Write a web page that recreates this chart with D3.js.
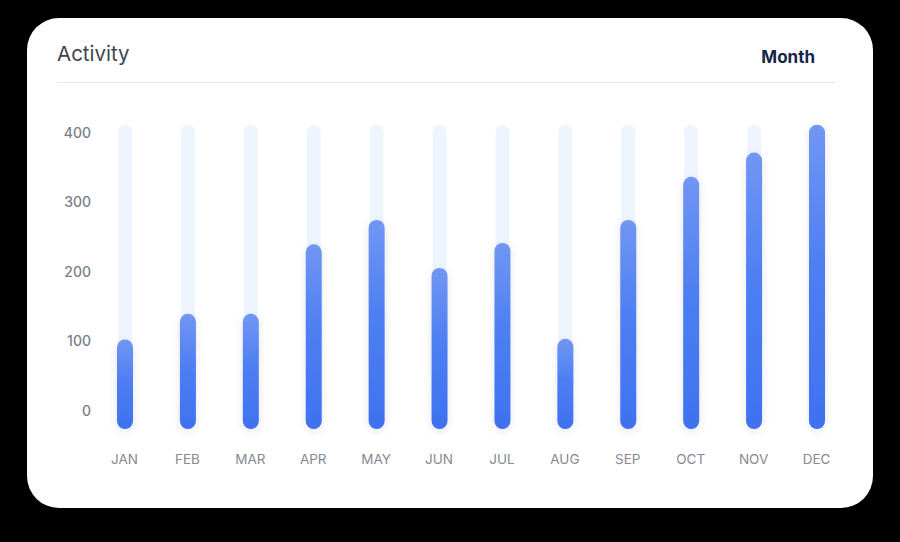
<!DOCTYPE html>
<html>
<head>
<meta charset="utf-8">
<script src="https://cdn.jsdelivr.net/npm/d3@7"></script>
<style>
  html, body { margin: 0; padding: 0; background: #000; }
  svg { display: block; }
</style>
</head>
<body>
<svg id="chart" width="900" height="542"></svg>
<script>
const months = ["JAN","FEB","MAR","APR","MAY","JUN","JUL","AUG","SEP","OCT","NOV","DEC"];
const activity = [100, 137, 137, 237, 272, 203, 239, 101, 272, 334, 369, 409];
const yTicks = [0, 100, 200, 300, 400];
const trackMax = 409;
const title = "Activity";
const periodLabel = "Month";

const svg = d3.select("#chart");

const defs = svg.append("defs");
const grad = defs.append("linearGradient").attr("id", "barGrad")
  .attr("x1", 0).attr("y1", 0).attr("x2", 0).attr("y2", 1);
grad.append("stop").attr("offset", "0%").attr("stop-color", "#7196f3");
grad.append("stop").attr("offset", "45%").attr("stop-color", "#4e7ff2");
grad.append("stop").attr("offset", "100%").attr("stop-color", "#3f71f0");

const sh = defs.append("filter").attr("id", "shadow")
  .attr("x", "-150%").attr("y", "-10%").attr("width", "400%").attr("height", "120%");
sh.append("feDropShadow").attr("dx", 0).attr("dy", 2).attr("stdDeviation", 4)
  .attr("flood-color", "#1e2a50").attr("flood-opacity", 0.10);

// card
svg.append("rect").attr("x", 27).attr("y", 18).attr("width", 846).attr("height", 490)
  .attr("rx", 32).attr("fill", "#ffffff");

svg.append("text").attr("x", 57).attr("y", 61).text(title)
  .attr("font-family", "Inter, 'Open Sans', sans-serif").attr("font-size", 20.5)
  .attr("fill", "#3f454d");
svg.append("text").attr("x", 815).attr("y", 63).attr("text-anchor", "end").text(periodLabel)
  .attr("font-family", "Inter, 'Open Sans', sans-serif").attr("font-size", 17)
  .attr("font-weight", 700).attr("fill", "#16264a");
svg.append("line").attr("x1", 57).attr("x2", 835).attr("y1", 82.5).attr("y2", 82.5)
  .attr("stroke", "#e6e8eb").attr("stroke-width", 1);

const x = d3.scalePoint().domain(months).range([125, 817]);
const y = d3.scaleLinear().domain([0, 400]).range([411, 133]);

const barW = 16, trackW = 14, bottom = y(0) + 18;

// y axis labels
const yAxis = svg.append("g").attr("transform", "translate(91,0)")
  .call(d3.axisLeft(y).tickValues(yTicks).tickSize(0).tickPadding(0));
yAxis.select(".domain").remove();
yAxis.selectAll("text").attr("font-family", "Inter, 'Open Sans', sans-serif")
  .attr("font-size", 14).attr("fill", "#7b7f86").attr("font-weight", 500);

// x axis labels
const xAxis = svg.append("g").attr("transform", "translate(-1,454)")
  .call(d3.axisBottom(x).tickSize(0).tickPadding(0));
xAxis.select(".domain").remove();
xAxis.selectAll("text").attr("font-family", "Inter, 'Open Sans', sans-serif")
  .attr("font-size", 13.5).attr("fill", "#868a91").attr("dy", "0.71em");

// tracks
svg.append("g").selectAll("rect").data(months).join("rect")
  .attr("x", d => x(d) - trackW / 2)
  .attr("y", y(trackMax) - 2)
  .attr("width", trackW)
  .attr("height", bottom - (y(trackMax) - 2))
  .attr("rx", 7)
  .attr("fill", "#eff5fe");

// bars
svg.append("g").selectAll("rect").data(activity).join("rect")
  .attr("x", (d, i) => x(months[i]) - barW / 2)
  .attr("y", d => y(d) - 2)
  .attr("width", barW)
  .attr("height", d => bottom - (y(d) - 2))
  .attr("rx", 8)
  .attr("fill", "url(#barGrad)")
  .attr("filter", "url(#shadow)");
</script>
</body>
</html>
